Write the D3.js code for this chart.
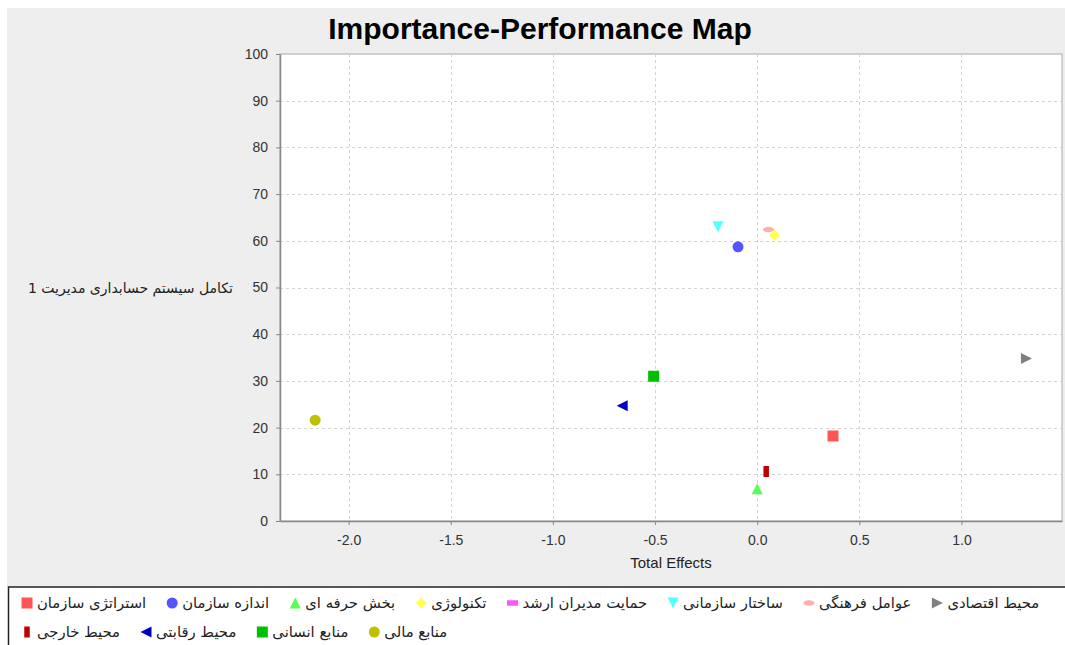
<!DOCTYPE html>
<html>
<head>
<meta charset="utf-8">
<script src="https://cdn.jsdelivr.net/npm/d3@7"></script>
<style>
  body { margin: 0; background: #fff; }
  svg { display: block; }
</style>
</head>
<body>
<div id="chart"></div>
<script>
// series names (legend order), x = Total Effects, y = performance
const seriesNames = [
  'استراتژی سازمان', 'اندازه سازمان', 'بخش حرفه ای', 'تکنولوژی',
  'حمایت مدیران ارشد', 'ساختار سازمانی', 'عوامل فرهنگی', 'محیط اقتصادی',
  'محیط خارجی', 'محیط رقابتی', 'منابع انسانی', 'منابع مالی'
];
const totalEffects = [0.371, -0.094, 0.0, 0.085, null, -0.192, 0.055, 1.318, 0.044, -0.661, -0.507, -2.164];
const performance = [18.2, 58.7, 6.9, 61.2, null, 63.0, 62.4, 34.8, 10.6, 24.7, 31.0, 21.6];
const seriesColors = ['#ff5555', '#5555ff', '#55ff55', '#ffff55', '#ff55ff', '#55ffff',
  '#ffafaf', '#808080', '#c00000', '#0000c0', '#00c000', '#c0c000'];
const seriesShapes = ['square', 'circle', 'triUp', 'diamond', 'hRect', 'triDown',
  'hEllipse', 'triRight', 'vRect', 'triLeft', 'square', 'circle'];
const xTicks = [-2.0, -1.5, -1.0, -0.5, 0.0, 0.5, 1.0];
const yTicks = [0, 10, 20, 30, 40, 50, 60, 70, 80, 90, 100];

const W = 1065, H = 645;
const plot = { left: 280, top: 54, right: 1062, bottom: 521 };

const svg = d3.select('#chart').append('svg')
  .attr('width', W).attr('height', H);

// chart panel
svg.append('rect').attr('x', 7).attr('y', 8).attr('width', W - 7).attr('height', 579)
  .attr('fill', '#eeeeee');

svg.append('text')
  .attr('x', 540).attr('y', 39)
  .attr('text-anchor', 'middle')
  .attr('font-family', 'Liberation Sans, Arial, sans-serif')
  .attr('font-weight', 'bold')
  .attr('font-size', 30)
  .text('Importance-Performance Map');

const x = d3.scaleLinear().domain([-2.336, 1.492]).range([plot.left, plot.right]);
const y = d3.scaleLinear().domain([0, 100]).range([plot.bottom, plot.top]);

svg.append('rect')
  .attr('x', plot.left).attr('y', plot.top)
  .attr('width', plot.right - plot.left).attr('height', plot.bottom - plot.top)
  .attr('fill', '#fff').attr('stroke', '#aaaaaa').attr('stroke-width', 1);

// grid
const grid = svg.append('g').attr('stroke', '#d4d4d4').attr('stroke-dasharray', '3,3').attr('stroke-width', 1);
grid.selectAll('.gx').data(xTicks).join('line')
  .attr('x1', d => Math.round(x(d)) + 0.5).attr('x2', d => Math.round(x(d)) + 0.5)
  .attr('y1', plot.top).attr('y2', plot.bottom);
grid.selectAll('.gy').data(yTicks.filter(d => d > 0 && d < 100)).join('line')
  .attr('y1', d => Math.round(y(d)) + 0.5).attr('y2', d => Math.round(y(d)) + 0.5)
  .attr('x1', plot.left).attr('x2', plot.right);

// axes
const xAxis = svg.append('g')
  .attr('transform', `translate(0,${plot.bottom})`)
  .call(d3.axisBottom(x).tickValues(xTicks).tickFormat(d3.format('.1f')).tickSizeInner(4).tickSizeOuter(0).tickPadding(10));
const yAxis = svg.append('g')
  .attr('transform', `translate(${plot.left},0)`)
  .call(d3.axisLeft(y).tickValues(yTicks).tickSizeInner(4).tickSizeOuter(0).tickPadding(8));
[xAxis, yAxis].forEach(a => {
  a.select('.domain').attr('stroke', '#888888').attr('stroke-width', 1.5);
  a.selectAll('.tick line').attr('stroke', '#888888');
  a.selectAll('.tick text')
    .attr('font-family', 'Liberation Sans, Arial, sans-serif')
    .attr('font-size', 14).attr('fill', '#333');
});
xAxis.selectAll('.tick text').text(d => d3.format('.1f')(d).replace('−', '-'));

svg.append('text')
  .attr('x', (plot.left + plot.right) / 2).attr('y', 568)
  .attr('text-anchor', 'middle')
  .attr('font-family', 'Liberation Sans, Arial, sans-serif')
  .attr('font-size', 15).attr('fill', '#222')
  .text('Total Effects');

// y axis label, horizontal, right edge at x = 233
svg.append('text')
  .attr('x', 233).attr('y', 293)
  .attr('text-anchor', 'start')
  .attr('direction', 'rtl')
  .attr('font-family', 'DejaVu Sans, sans-serif')
  .attr('font-size', 14).attr('fill', '#222')
  .text('تکامل سیستم حسابداری مدیریت 1');

// marker shapes, s = half size
function shapePath(kind, s) {
  switch (kind) {
    case 'square': return `M${-s},${-s}H${s}V${s}H${-s}Z`;
    case 'circle': return d3.symbol(d3.symbolCircle, Math.PI * s * s)();
    case 'triUp': return `M0,${-s}L${s},${s}L${-s},${s}Z`;
    case 'triDown': return `M0,${s}L${s},${-s}L${-s},${-s}Z`;
    case 'triRight': return `M${s},0L${-s},${s}L${-s},${-s}Z`;
    case 'triLeft': return `M${-s},0L${s},${s}L${s},${-s}Z`;
    case 'diamond': return `M0,${-s}L${s},0L0,${s}L${-s},0Z`;
    case 'hRect': return `M${-s},${-s / 2}H${s}V${s / 2}H${-s}Z`;
    case 'vRect': return `M${-s / 2},${-s}H${s / 2}V${s}H${-s / 2}Z`;
    case 'hEllipse': return `M${-s},0A${s},${s / 2} 0 1,0 ${s},0A${s},${s / 2} 0 1,0 ${-s},0Z`;
  }
}

// series 0 is drawn last (on top)
const points = seriesNames.map((name, i) => ({
  name, x: totalEffects[i], y: performance[i], color: seriesColors[i], shape: seriesShapes[i]
})).filter(d => d.x != null && d.y != null).reverse();

svg.append('g').selectAll('path').data(points).join('path')
  .attr('transform', d => `translate(${x(d.x)},${y(d.y)})`)
  .attr('d', d => shapePath(d.shape, 5.5))
  .attr('fill', d => d.color);

// legend
svg.append('rect').attr('x', 8.5).attr('y', 587).attr('width', W).attr('height', 70)
  .attr('fill', '#fff').attr('stroke', '#222').attr('stroke-width', 1.5);

const legend = svg.append('g');
let lx = 21, ly = 603;
seriesNames.forEach((name, i) => {
  const t = legend.append('text')
    .attr('direction', 'rtl')
    .attr('text-anchor', 'end')
    .attr('font-family', 'DejaVu Sans, sans-serif')
    .attr('font-size', 14.8).attr('fill', '#222')
    .text(name);
  const w = t.node().getComputedTextLength();
  if (lx + 16 + w > W - 10) { lx = 21; ly += 29; }
  t.attr('x', lx + 16).attr('y', ly + 5);
  legend.append('path')
    .attr('transform', `translate(${lx + 6},${ly})`)
    .attr('d', shapePath(seriesShapes[i], 5.5))
    .attr('fill', seriesColors[i]);
  lx += 16 + w + 20;
});
</script>
</body>
</html>
